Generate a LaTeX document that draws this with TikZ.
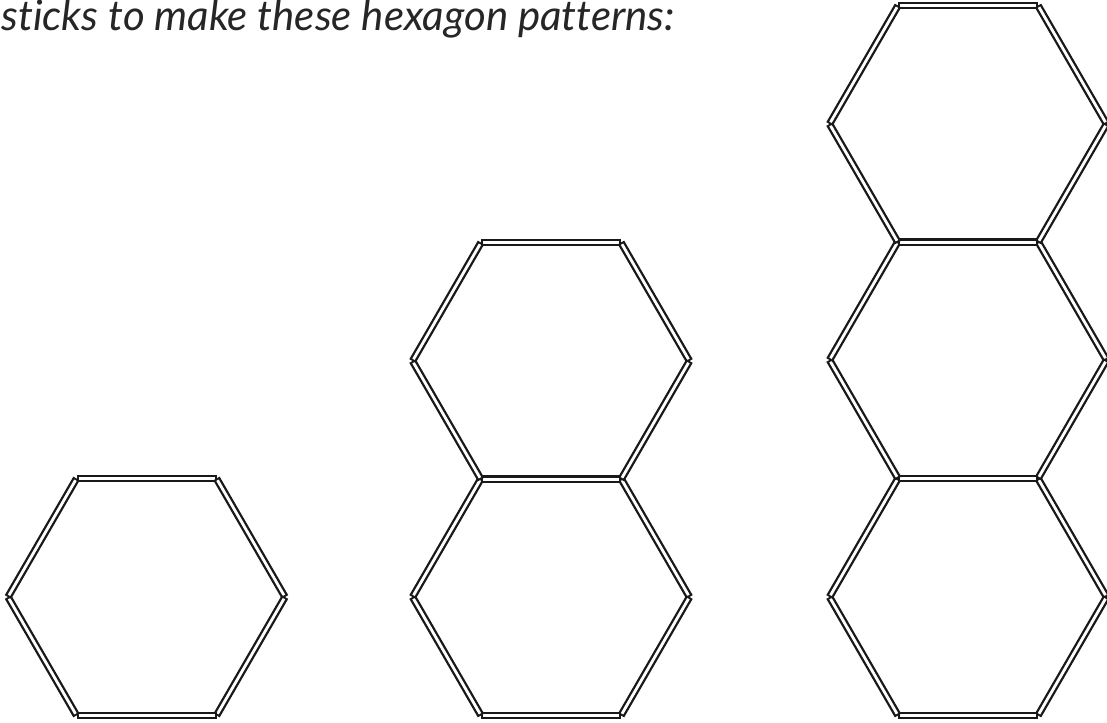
\documentclass[tikz,border=0pt]{standalone}
\usepackage{fontspec}
\setmainfont{Lato}[Ligatures=NoCommon]
\usetikzlibrary{positioning}

\newcommand\stick[2]{\draw[stickout] (#1) -- (#2); \draw[stickin] (#1) -- (#2);}

\begin{document}
\begin{tikzpicture}[x=1pt,y=-1pt,
  stickout/.style={line width=7.4pt,draw=black!90},
  stickin/.style={line width=2.8pt,draw=white,shorten <=2pt,shorten >=2pt},
  heading/.style={font=\fontsize{42}{48}\selectfont\itshape,text=black!85,inner sep=0pt}
]
\fill[white] (0,0) rectangle (1107,722);
\useasboundingbox (0,0) rectangle (1107,722);

\node[heading,anchor=base east] (title) at (675,31) {sticks to make these hexagon patterns:};

% one hexagon per centre, bottom up
\foreach \hx/\cx/\cy in {a/146.5/597, b1/551/597, b2/551/361, c1/968/597, c2/968/360, c3/968/124} {
  \coordinate (\hx-tl) at (\cx-70,\cy-118.5);
  \coordinate (\hx-tr) at (\cx+70,\cy-118.5);
  \coordinate (\hx-r) at (\cx+138.5,\cy);
  \coordinate (\hx-br) at (\cx+70,\cy+118.5);
  \coordinate (\hx-bl) at (\cx-70,\cy+118.5);
  \coordinate (\hx-l) at (\cx-138.5,\cy);
  \stick{\hx-tl}{\hx-tr}
  \stick{\hx-tr}{\hx-r}
  \stick{\hx-r}{\hx-br}
  \stick{\hx-br}{\hx-bl}
  \stick{\hx-bl}{\hx-l}
  \stick{\hx-l}{\hx-tl}
}
\end{tikzpicture}
\end{document}
